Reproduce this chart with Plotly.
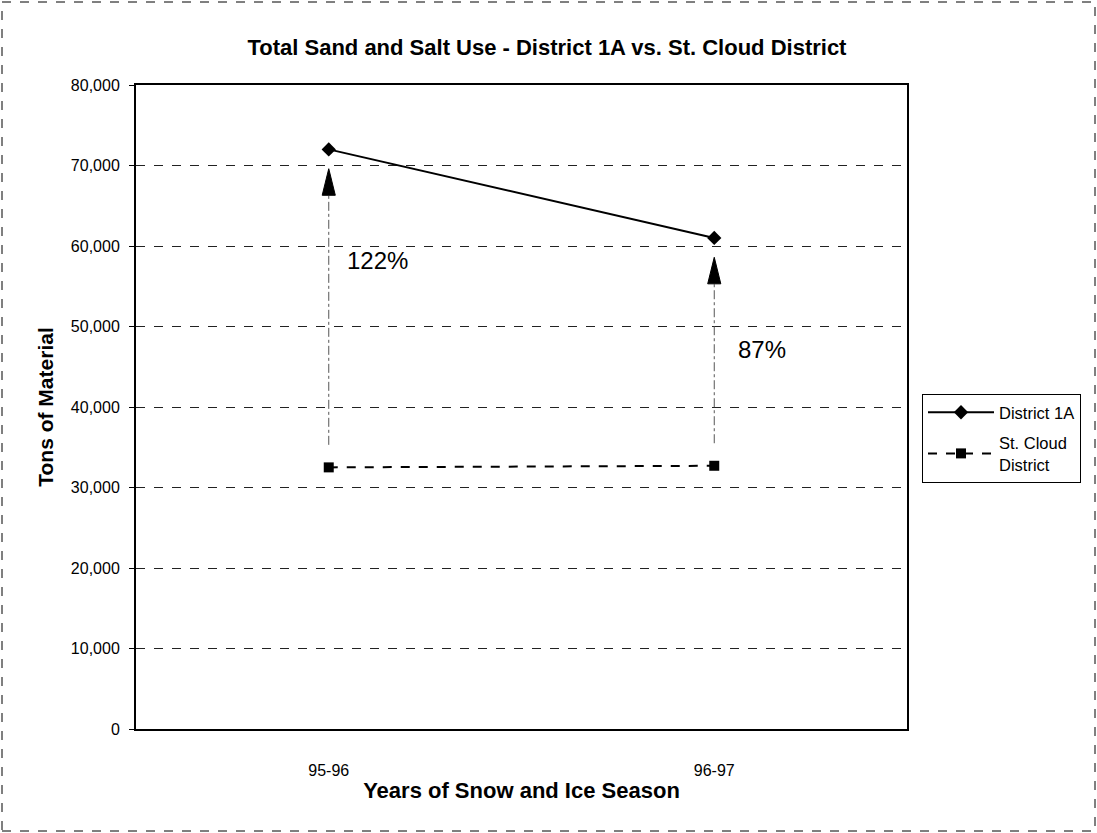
import plotly.graph_objects as go

# ---- data ----
seasons = ["95-96", "96-97"]
district_1a = [72000, 61000]
st_cloud = [32500, 32700]
pct_labels = ["122%", "87%"]
y_ticks = [0, 10000, 20000, 30000, 40000, 50000, 60000, 70000, 80000]
y_tick_text = ["0", "10,000", "20,000", "30,000", "40,000", "50,000", "60,000", "70,000", "80,000"]

W, H = 1097, 833
ML, MR, MT, MB = 136, 190, 85, 104
FONT = "Liberation Sans, Arial, sans-serif"

xi = list(range(len(seasons)))

fig = go.Figure()

fig.add_trace(go.Scatter(
    x=xi, y=district_1a, name="District 1A", mode="lines+markers",
    legendgroup="a",
    line=dict(color="black", width=2),
    marker=dict(symbol="diamond", size=11, color="black"),
))
fig.add_trace(go.Scatter(
    x=xi, y=st_cloud, name="St. Cloud<br>District", mode="lines+markers",
    legendgroup="b",
    line=dict(color="black", width=2, dash="dash"),
    marker=dict(symbol="square", size=10, color="black"),
))

# arrows from St. Cloud up to District 1A
TIP_GAP = 2400
HEAD_LEN = 3300
HEAD_HALF = 0.017
START_GAP = 2800
for i in xi:
    tip = district_1a[i] - TIP_GAP
    base = tip - HEAD_LEN
    fig.add_trace(go.Scatter(
        x=[i, i], y=[st_cloud[i] + START_GAP, base], mode="lines",
        line=dict(color="#555", width=1, dash="dashdot"),
        showlegend=False, hoverinfo="skip",
    ))
    fig.add_trace(go.Scatter(
        x=[i - HEAD_HALF, i + HEAD_HALF, i, i - HEAD_HALF],
        y=[base, base, tip, base], mode="lines", fill="toself",
        fillcolor="black", line=dict(color="black", width=1),
        showlegend=False, hoverinfo="skip",
    ))

annos = []
for i, lab in zip(xi, pct_labels):
    annos.append(dict(
        x=i, y=district_1a[i] - 13800, xref="x", yref="y", text=lab,
        showarrow=False, xanchor="left", yanchor="middle", xshift=16 + 6 * i,
        font=dict(family=FONT, size=24, color="black"),
    ))

pw = W - ML - MR
ph = H - MT - MB
fig.update_layout(
    width=W, height=H,
    margin=dict(l=ML, r=MR, t=MT, b=MB, pad=0),
    paper_bgcolor="white", plot_bgcolor="white",
    font=dict(family=FONT, color="black"),
    title=dict(
        text="<b>Total Sand and Salt Use - District 1A vs. St. Cloud District</b>",
        x=0.4986, xref="container", xanchor="center",
        y=1 - 47 / H, yref="container", yanchor="middle",
        font=dict(family=FONT, size=22, color="black"),
    ),
    xaxis=dict(
        range=[-0.5, 1.5], tickvals=xi, ticktext=seasons,
        showgrid=False, zeroline=False,
        showline=True, linecolor="black", linewidth=2, mirror=True,
        ticks="", ticklabelstandoff=26,
        tickfont=dict(family=FONT, size=16, color="black"),
        title=dict(text="<b>Years of Snow and Ice Season</b>", standoff=4,
                   font=dict(family=FONT, size=22, color="black")),
    ),
    yaxis=dict(
        range=[0, 80000], tickvals=y_ticks, ticktext=y_tick_text,
        showgrid=True, gridcolor="#222", gridwidth=1, griddash="dash",
        zeroline=False,
        showline=True, linecolor="black", linewidth=2, mirror=True,
        ticks="outside", ticklen=5, tickcolor="black", ticklabelstandoff=6,
        tickfont=dict(family=FONT, size=16, color="black"),
        title=dict(text="<b>Tons of Material</b>", standoff=12,
                   font=dict(family=FONT, size=21, color="black")),
    ),
    legend=dict(
        x=(922 - ML) / pw, xanchor="left", y=(H - MB - 394) / ph, yanchor="top",
        bordercolor="black", borderwidth=1, bgcolor="white",
        font=dict(family=FONT, size=16.5, color="black"),
        itemwidth=66, traceorder="grouped", tracegroupgap=6,
    ),
    annotations=annos,
    shapes=[dict(
        type="rect", xref="paper", yref="paper",
        x0=(2 - ML) / pw, x1=(W - 2 - ML) / pw,
        y0=(H - MB - (H - 2)) / ph, y1=(H - MB - 2) / ph,
        line=dict(color="black", width=1, dash="dash"),
    )],
    showlegend=True,
)

fig.write_html("out.html", config={"displayModeBar": False},
               post_script="document.body.style.margin='0';")
